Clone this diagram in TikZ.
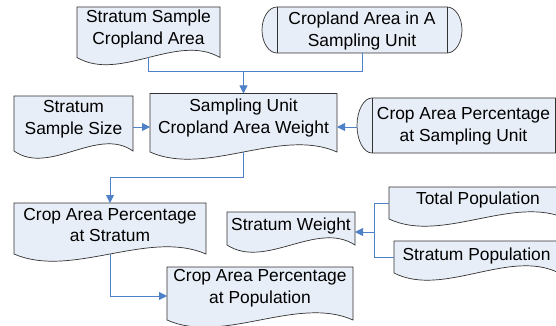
\documentclass[tikz,border=0pt]{standalone}
\usepackage{fontspec}
\setmainfont{Liberation Sans}
\usetikzlibrary{calc,arrows.meta}
\definecolor{boxfill}{RGB}{232,238,247}
\definecolor{boxline}{RGB}{50,50,50}
\definecolor{conn}{RGB}{79,129,200}
\tikzset{
  shp/.style={rectangle, draw=none, inner sep=0pt, outer sep=0pt},
  outl/.style={draw=boxline, fill=boxfill, line width=0.7pt},
  txt/.style={align=center, inner sep=0pt, font=\fontsize{17.4}{21.7}\selectfont},
  conline/.style={draw=conn, line width=0.9pt},
  arr/.style={conline, -{Triangle[length=8pt,width=8pt]}},
}
\newcommand\docout[1]{%
  \draw[outl] (#1.north west) -- (#1.south west)
   .. controls ($(#1.south west)!0.3!(#1.south east)+(0,25)$) and ($(#1.south west)!0.7!(#1.south east)+(0,-25)$) .. (#1.south east)
   -- (#1.north east) -- cycle;}
\newcommand\storedout[1]{%
  \coordinate (#1-tl) at ($(#1.north west)+(15,0)$);
  \coordinate (#1-tr) at ($(#1.north east)+(-15,0)$);
  \coordinate (#1-bl) at ($(#1.south west)+(15,0)$);
  \coordinate (#1-br) at ($(#1.south east)+(-15,0)$);
  \draw[outl] (#1-tl) -- (#1-tr)
   .. controls ($(#1-tr)!0.55!(#1.north east)$) and ($(#1.east)!0.55!(#1.north east)$) .. (#1.east)
   .. controls ($(#1.east)!0.55!(#1.south east)$) and ($(#1-br)!0.55!(#1.south east)$) .. (#1-br)
   -- (#1-bl)
   .. controls ($(#1-bl)!0.55!(#1.south west)$) and ($(#1.west)!0.55!(#1.south west)$) .. (#1.west)
   .. controls ($(#1.west)!0.55!(#1.north west)$) and ($(#1-tl)!0.55!(#1.north west)$) .. (#1-tl) -- cycle;
  \draw[outl, fill=none] (#1-tl) -- (#1-bl) (#1-tr) -- (#1-br);}
\begin{document}
\begin{tikzpicture}[x=1pt,y=-1pt]
\useasboundingbox (0,0) rectangle (556,326);
\clip (0,0) rectangle (556,326);
\fill[white] (0,0) rectangle (556,326);

% shapes
\node[shp, minimum width=143pt, minimum height=50.5pt] (SSCA) at (148.5,32.25) {};
\node[shp, minimum width=200pt, minimum height=46pt] (CASU) at (362,30) {};
\node[shp, minimum width=119pt, minimum height=55pt] (SSS) at (73.5,123.5) {};
\node[shp, minimum width=187pt, minimum height=58.5pt] (SU) at (243.5,122.75) {};
\node[shp, minimum width=213pt, minimum height=55pt] (CAPSU) at (463.5,125.5) {};
\node[shp, minimum width=192pt, minimum height=51pt] (CAPS) at (110,228.5) {};
\node[shp, minimum width=128pt, minimum height=33pt] (SW) at (291,228.5) {};
\node[shp, minimum width=186pt, minimum height=53pt] (CAPP) at (260,293.5) {};
\node[shp, minimum width=178pt, minimum height=32pt] (TP) at (478,203) {};
\node[shp, minimum width=165pt, minimum height=32pt] (SP) at (476.5,257) {};

\docout{SSCA}
\storedout{CASU}
\docout{SSS}
\docout{SU}
\storedout{CAPSU}
\docout{CAPS}
\docout{SW}
\docout{CAPP}
\docout{TP}
\docout{SP}

% texts
\node[txt] (SSCA-t) at (148.5,29) {Stratum Sample\\Cropland Area};
\node[txt] (CASU-t) at (362,31) {Cropland Area in A\\Sampling Unit};
\node[txt] (SSS-t) at (73.5,119) {Stratum\\Sample Size};
\node[txt] (SU-t) at (243.5,118) {Sampling Unit\\Cropland Area Weight};
\node[txt] (CAPSU-t) at (463.5,126.5) {Crop Area Percentage\\at Sampling Unit};
\node[txt] (CAPS-t) at (110,225) {Crop Area Percentage\\at Stratum};
\node[txt] (SW-t) at (291,226) {Stratum Weight};
\node[txt] (CAPP-t) at (260,288) {Crop Area Percentage\\at Population};
\node[txt] (TP-t) at (478,200) {Total Population};
\node[txt] (SP-t) at (476.5,256) {Stratum Population};

% connectors
\coordinate (j1) at ($(SU.north)+(0,-22)$);
\draw[conline] (SSCA.south) |- (j1);
\draw[conline] (CASU.south) |- (j1);
\draw[arr] (j1) -- (SU.north);
\draw[arr] ([yshift=-3.5pt]SSS.east) -- ([yshift=-3.5pt]SSS.east -| SU.west);
\draw[arr] ([yshift=-1.5pt]CAPSU.west) -- ([yshift=-1.5pt]CAPSU.west -| SU.east);
\draw[arr] (SU.south) -- ++(0,25) -| (CAPS.north);
\coordinate (j2) at ($(SW.east)+(19,3.5)$);
\draw[conline] (TP.west) -| (j2);
\draw[conline] (SP.west) -| (j2);
\draw[arr] (j2) -- (j2 -| SW.east);
\draw[arr] (CAPS.south) |- ([yshift=-2.5pt]CAPP.west);
\end{tikzpicture}
\end{document}
